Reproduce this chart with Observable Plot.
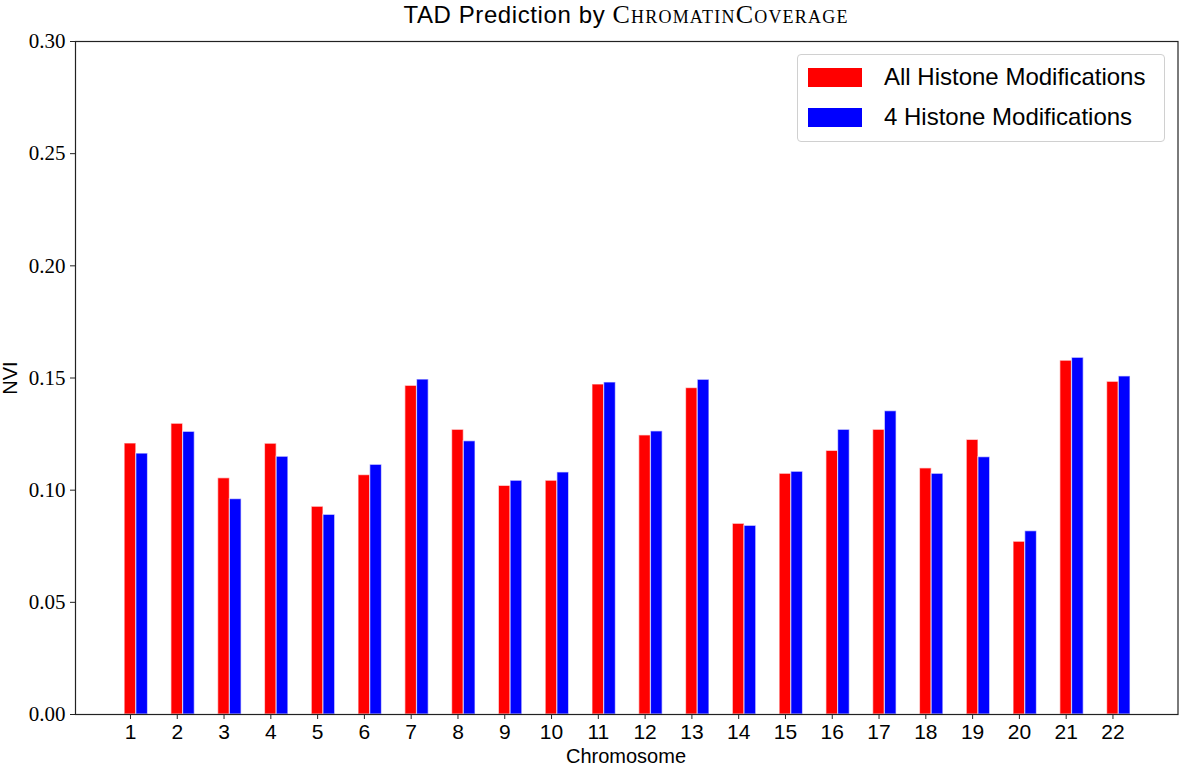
<!DOCTYPE html>
<html>
<head>
<meta charset="utf-8">
<script src="https://cdn.jsdelivr.net/npm/d3@7"></script>
<script src="https://cdn.jsdelivr.net/npm/@observablehq/plot@0.6"></script>
<style>
  html, body { margin: 0; padding: 0; background: #fff; }
  #wrap { position: relative; width: 1179px; height: 766px; overflow: hidden; }
  #title { position: absolute; top: 0; left: 75px; width: 1102px; height: 30px; text-align: center;
           font-family: "Liberation Sans", sans-serif; font-size: 24px; line-height: 30px; color: #000;
           letter-spacing: 0.6px; }
  #title .sc { font-family: "Liberation Serif", serif; font-variant: small-caps; font-size: 26px; letter-spacing: 1.2px; }
  #chart { position: absolute; top: 30px; left: 0; }
  #ylabel { position: absolute; left: 10px; top: 378px; transform: translate(-50%, -50%) rotate(-90deg);
            font-family: "Liberation Sans", sans-serif; font-size: 20px; color: #000; white-space: nowrap; }
  #xlabel { position: absolute; left: 626px; top: 745px; transform: translateX(-50%);
            font-family: "Liberation Sans", sans-serif; font-size: 20px; color: #000; }
  #legend { position: absolute; left: 797px; top: 54px; width: 366px; height: 86px;
            border: 1px solid #d0d0d0; border-radius: 4px; background: rgba(255,255,255,0.85);
            font-family: "Liberation Sans", sans-serif; font-size: 24px; color: #000; }
  #legend .row { position: absolute; left: 10px; height: 20px; display: flex; align-items: center; }
  #legend .sw { width: 54px; height: 19px; margin-right: 22px; }
  #chart g[aria-label="y-axis tick label"] text { font-family: "Liberation Serif", serif; }
  #chart g[aria-label="x-axis tick label"] text { font-family: "Liberation Sans", sans-serif; }
</style>
</head>
<body>
<div id="wrap">
  <div id="title">TAD Prediction by <span class="sc">ChromatinCoverage</span></div>
  <div id="chart"></div>
  <div id="ylabel">NVI</div>
  <div id="xlabel">Chromosome</div>
  <div id="legend"></div>
</div>
<script>
const chromosomes = [1,2,3,4,5,6,7,8,9,10,11,12,13,14,15,16,17,18,19,20,21,22];
const allHistone = [0.1208,0.1296,0.1053,0.1207,0.0926,0.1067,0.1465,0.1269,0.1019,0.1042,0.1471,0.1244,0.1455,0.0850,0.1073,0.1175,0.1269,0.1097,0.1224,0.0770,0.1577,0.1483];
const fourHistone = [0.1163,0.1260,0.0960,0.1149,0.0890,0.1113,0.1493,0.1218,0.1042,0.1079,0.1480,0.1262,0.1492,0.0841,0.1082,0.1269,0.1352,0.1073,0.1147,0.0817,0.1590,0.1507];
const seriesNames = ["All Histone Modifications", "4 Histone Modifications"];
const seriesColors = ["#ff0000", "#0000ff"];
const yTicks = [0, 0.05, 0.10, 0.15, 0.20, 0.25, 0.30];
const barWidth = 0.25;

const redRows = chromosomes.map((c, i) => ({chr: c, value: allHistone[i]}));
const blueRows = chromosomes.map((c, i) => ({chr: c, value: fourHistone[i]}));

const chart = Plot.plot({
  width: 1179,
  height: 736,
  marginLeft: 75,
  marginRight: 1.5,
  marginTop: 11,
  marginBottom: 52,
  style: {background: "#fff", color: "#000"},
  x: {type: "linear", domain: [-0.175, 23.39]},
  y: {domain: [0, 0.30]},
  marks: [
    Plot.rectY(redRows, {x1: d => d.chr - barWidth / 2, x2: d => d.chr + barWidth / 2, y: "value",
      fill: seriesColors[0], stroke: "#ffffff", strokeOpacity: 0.6, strokeWidth: 1.2}),
    Plot.rectY(blueRows, {x1: d => d.chr + barWidth / 2, x2: d => d.chr + 1.5 * barWidth, y: "value",
      fill: seriesColors[1], stroke: "#ffffff", strokeOpacity: 0.6, strokeWidth: 1.2}),
    Plot.axisY({ticks: yTicks, tickFormat: d3.format(".2f"), tickSize: 5, tickPadding: 5,
      fontSize: 21, label: null, stroke: "#222"}),
    Plot.axisX({ticks: chromosomes, tickFormat: d => String(d), tickSize: 5, tickPadding: 5,
      fontSize: 21, label: null, stroke: "#222"}),
    Plot.frame({stroke: "#222", strokeWidth: 1.2})
  ]
});
document.getElementById("chart").appendChild(chart);

const legend = document.getElementById("legend");
seriesNames.forEach((name, i) => {
  const row = document.createElement("div");
  row.className = "row";
  row.style.top = (12 + i * 40) + "px";
  const sw = document.createElement("div");
  sw.className = "sw";
  sw.style.background = seriesColors[i];
  const label = document.createElement("span");
  label.textContent = name;
  row.appendChild(sw);
  row.appendChild(label);
  legend.appendChild(row);
});
</script>
</body>
</html>
